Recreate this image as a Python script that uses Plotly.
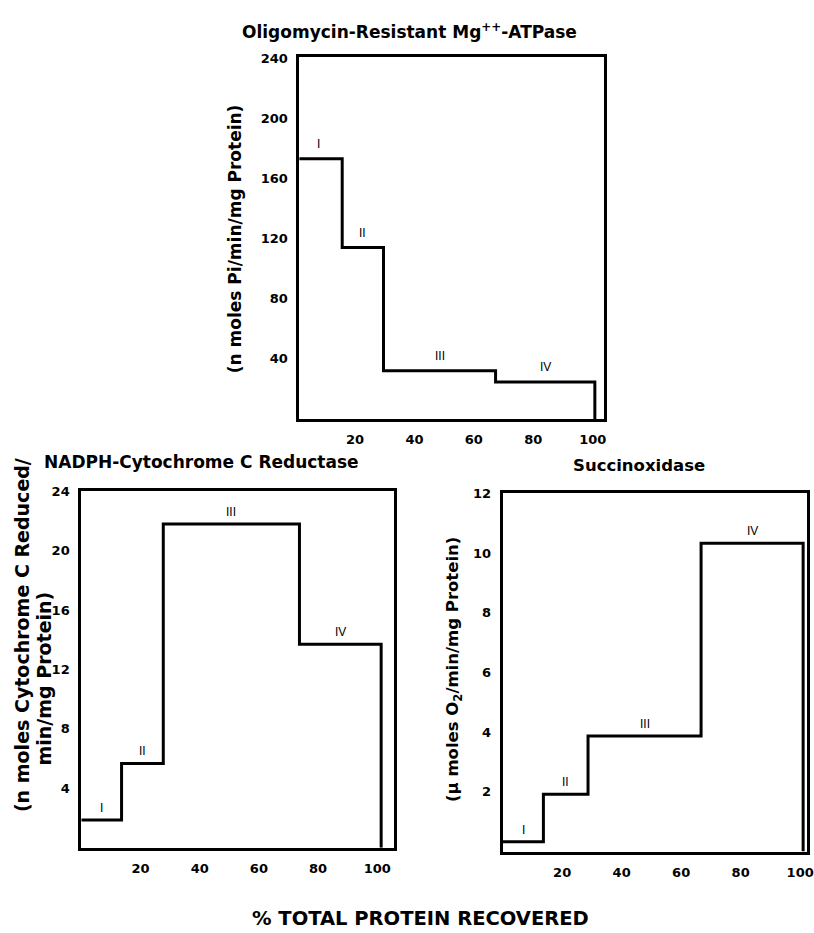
import plotly.graph_objects as go

W, H = 814, 933

# ---- data ----
xlabel = "% TOTAL PROTEIN RECOVERED"
seg_labels = ["I", "II", "III", "IV"]

atp_title = "Oligomycin-Resistant Mg<sup>++</sup>-ATPase"
atp_ylabel = "(n moles Pi/min/mg Protein)"
atp_bounds = [0, 15.7, 29.6, 67.3, 100.7]
atp_values = [173, 114, 32, 24.6]
atp_yticks = [40, 80, 120, 160, 200, 240]

nadph_title = "NADPH-Cytochrome C Reductase"
nadph_ylabel1 = "(n moles Cytochrome C Reduced/"
nadph_ylabel2 = "min/mg Protein)"
nadph_bounds = [0, 13.6, 27.7, 73.7, 101.3]
nadph_values = [1.87, 5.67, 21.8, 13.7]
nadph_yticks = [4, 8, 12, 16, 20, 24]

succ_title = "Succinoxidase"
succ_ylabel = "(μ moles O<sub>2</sub>/min/mg Protein)"
succ_bounds = [0, 13.7, 28.7, 66.7, 101.0]
succ_values = [0.33, 1.92, 3.87, 10.33]
succ_yticks = [2, 4, 6, 8, 10, 12]

xticks = [20, 40, 60, 80, 100]


def px(x):
    return x / W


def py(y):
    return 1 - y / H


fig = go.Figure()

panels = [
    # (axis suffix, bounds, values, yticks, xdomain, ydomain, xrange, yrange, label shift)
    ("", atp_bounds, atp_values, atp_yticks, [px(302), px(609)], [py(415), py(50)], [1.3, 103.7], [0, 241], 15),
    ("2", nadph_bounds, nadph_values, nadph_yticks, [px(82), px(397)], [py(847), py(488)], [0, 105.5], [0, 24], 12),
    ("3", succ_bounds, succ_values, succ_yticks, [px(507), 1.0], [py(851), py(490)], [0, 102.3], [0, 12], 12),
]

tickfont = dict(family="DejaVu Sans", size=13, color="black", weight="bold")
annots = []
for suf, bounds, vals, yt, xd, yd, xr, yr, shift in panels:
    xa = "x" + suf
    ya = "y" + suf
    fig.add_trace(go.Scatter(
        x=bounds, y=vals + [0], mode="lines", line_shape="hv",
        line=dict(color="black", width=3), xaxis=xa, yaxis=ya,
        showlegend=False, hoverinfo="skip"))
    axcommon = dict(showline=True, mirror=True, linecolor="black", linewidth=3,
                    showgrid=False, zeroline=False, ticks="outside",
                    tickcolor="rgba(0,0,0,0)", tickfont=tickfont, fixedrange=True,
                    ticklabeloverflow="allow")
    fig.update_layout(**{
        "xaxis" + suf: dict(domain=xd, range=xr, tickvals=xticks, ticklen=7,
                            anchor=ya, **axcommon),
        "yaxis" + suf: dict(domain=yd, range=yr, tickvals=yt, ticklen=6,
                            anchor=xa, **axcommon),
    })
    for i, lab in enumerate(seg_labels):
        annots.append(dict(
            x=(bounds[i] + bounds[i + 1]) / 2, y=vals[i], xref=xa, yref=ya,
            text=lab, showarrow=False, yshift=shift, yanchor="middle",
            font=dict(family="Liberation Sans", size=12, color="black")))

bold = dict(family="DejaVu Sans", color="black", weight="bold")


def ann(text, x, y, size, angle=0):
    annots.append(dict(text=text, x=px(x), y=py(y), xref="paper", yref="paper",
                       showarrow=False, textangle=angle, xanchor="center",
                       yanchor="middle", font=dict(size=size, **bold)))


ann(atp_title, 413, 24, 17)
ann(nadph_title, 203, 458, 17)
ann(succ_title, 645, 462, 16.5)
ann(atp_ylabel, 237, 233, 17, -90)
ann(nadph_ylabel1, 22, 633, 19, -90)
ann(nadph_ylabel2, 44, 677, 19, -90)
ann(succ_ylabel, 458, 668, 16.5, -90)
ann(xlabel, 424, 918, 19.5)

fig.update_layout(width=W, height=H, margin=dict(l=0, r=0, t=0, b=0),
                  paper_bgcolor="white", plot_bgcolor="white",
                  annotations=annots, showlegend=False)

fig.write_html("out.html", config={"displayModeBar": False})
